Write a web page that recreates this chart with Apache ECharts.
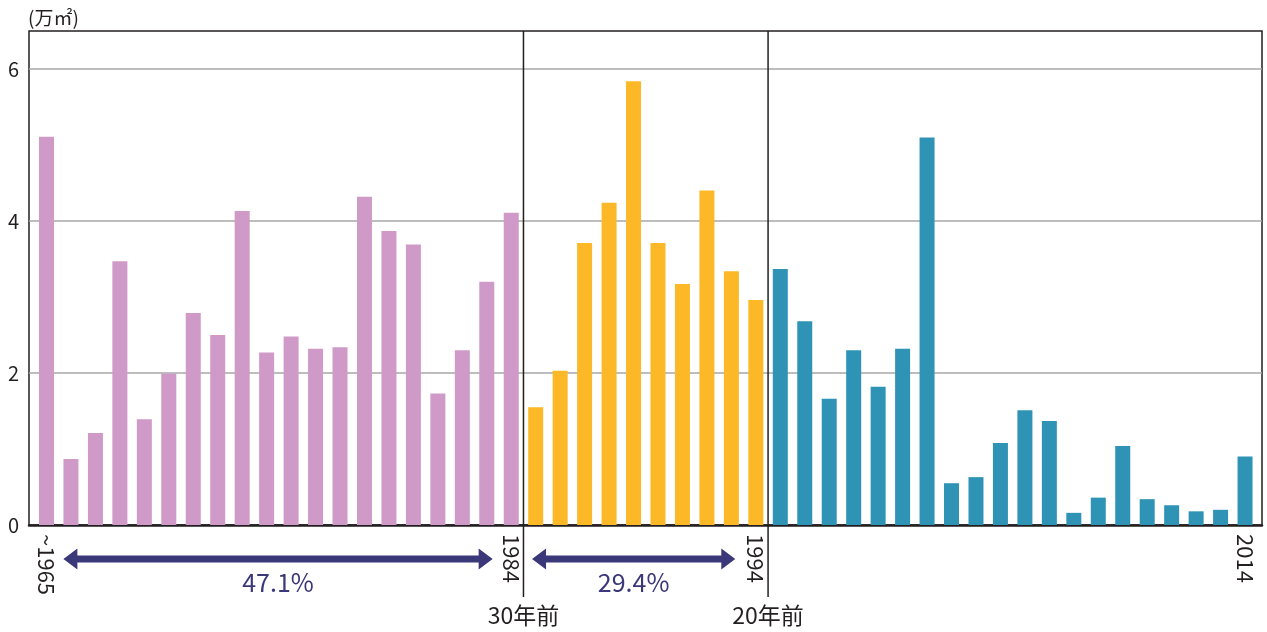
<!DOCTYPE html>
<html><head><meta charset="utf-8">
<script src="https://cdn.jsdelivr.net/npm/echarts@6/dist/echarts.min.js"></script>
<style>html,body{margin:0;padding:0;background:#fff}#c{width:1267px;height:632px}</style>
</head><body><div id="c"></div>
<script>
const years = ['1965','1966','1967','1968','1969','1970','1971','1972','1973','1974',
  '1975','1976','1977','1978','1979','1980','1981','1982','1983','1984',
  '1985','1986','1987','1988','1989','1990','1991','1992','1993','1994',
  '1995','1996','1997','1998','1999','2000','2001','2002','2003','2004',
  '2005','2006','2007','2008','2009','2010','2011','2012','2013','2014'];
const tickYears = ['1965','1984','1994','2014'];
const tickTexts = ['~1965','1984','1994','2014'];
const purpleValues = [5.11,0.87,1.21,3.47,1.39,1.99,2.79,2.50,4.13,2.27,2.48,2.32,2.34,4.32,3.87,3.69,1.73,2.30,3.20,4.11];
const orangeValues = [1.55,2.03,3.71,4.24,5.84,3.71,3.17,4.40,3.34,2.96];
const blueValues = [3.37,2.68,1.66,2.30,1.82,2.32,5.10,0.55,0.63,1.08,1.51,1.37,0.16,0.36,1.04,0.34,0.26,0.18,0.20,0.90];
const yTicks = [0,2,4,6];
const unitLabel = '(万㎡)';
const shareTexts = ['47.1%','29.4%'];
const agoTexts = ['30年前','20年前'];

const FONT = '"Noto Sans CJK JP","Noto Sans",sans-serif';
const DARK = '#231f20';
const ARROW = '#3b387a';

function place(values, start) {
  return years.map((y, i) => (i >= start && i < start + values.length) ? values[i - start] : null);
}

const chart = echarts.init(document.getElementById('c'), null, {renderer: 'canvas'});
chart.setOption({
  animation: false,
  backgroundColor: '#fff',
  textStyle: {fontFamily: FONT},
  title: {text: unitLabel, left: 23, top: 3, textStyle: {fontSize: 19, fontWeight: 'normal', color: DARK, fontFamily: FONT}},
  grid: [
    {left: 29, right: 5, top: 31, bottom: 107, show: true, borderColor: DARK, borderWidth: 1.5, backgroundColor: 'transparent'},
    {left: 34.27, right: 9.73, top: 31, bottom: 107}
  ],
  xAxis: [
    {type: 'value', gridIndex: 0, min: 0, max: 1, axisLine: {show: true, onZero: false, lineStyle: {color: DARK, width: 2.5}}, axisTick: {show: false}, axisLabel: {show: false}, splitLine: {show: false}},
    {type: 'category', gridIndex: 1, data: years, boundaryGap: true, axisLine: {show: false}, axisTick: {show: false},
     axisLabel: {interval: 0, rotate: -90, fontSize: 22, margin: 9, color: DARK, fontFamily: FONT,
       formatter: (v) => { const k = tickYears.indexOf(v); return k >= 0 ? tickTexts[k] : ''; }}}
  ],
  yAxis: [
    {type: 'value', gridIndex: 0, min: 0, max: 6.5, interval: 2, axisLine: {show: false}, axisTick: {show: false},
     axisLabel: {fontSize: 20, color: DARK, margin: 10, fontFamily: FONT, showMaxLabel: false,
       formatter: (v) => yTicks.indexOf(v) >= 0 ? String(v) : ''},
     splitLine: {show: true, showMinLine: false, showMaxLine: false, lineStyle: {color: '#a7a7a9', width: 1.5}}},
    {type: 'value', gridIndex: 1, min: 0, max: 6.5, show: false, splitLine: {show: false}}
  ],
  series: [
    {type: 'bar', xAxisIndex: 1, yAxisIndex: 1, data: place(purpleValues, 0), barWidth: 15, barGap: '-100%', itemStyle: {color: '#cf9ac7'}},
    {type: 'bar', xAxisIndex: 1, yAxisIndex: 1, data: place(orangeValues, 20), barWidth: 15, barGap: '-100%', itemStyle: {color: '#fcb827'}},
    {type: 'bar', xAxisIndex: 1, yAxisIndex: 1, data: place(blueValues, 30), barWidth: 15, barGap: '-100%', itemStyle: {color: '#2f93b6'}}
  ]
});

// annotation layer computed from the axes
const px = (i) => chart.convertToPixel({xAxisIndex: 1}, years[i]);
const py = (v) => chart.convertToPixel({yAxisIndex: 1}, v);
const band = px(1) - px(0);
const sep1 = px(19) + band / 2;
const sep2 = px(29) + band / 2;
const yTop = py(6.5);
const yBase = py(0);

function arrowPoly(x0, x1, y) {
  const hw = 14, hh = 10.5, sh = 3.6;
  return [[x0, y], [x0 + hw, y - hh], [x0 + hw, y - sh], [x1 - hw, y - sh], [x1 - hw, y - hh], [x1, y],
          [x1 - hw, y + hh], [x1 - hw, y + sh], [x0 + hw, y + sh], [x0 + hw, y + hh]];
}
const arrowY = yBase + 34;
const a1 = [px(0) + 0.69 * band, sep1 - 1.26 * band];
const a2 = [sep1 + 0.35 * band, sep2 - 1.34 * band];

const g = [];
[sep1, sep2].forEach((x, k) => {
  g.push({type: 'line', z: 100, shape: {x1: x, y1: yTop, x2: x, y2: yBase + 72}, style: {stroke: DARK, lineWidth: 1.5}});
  g.push({type: 'text', z: 100, x: x, y: yBase + 90, style: {text: agoTexts[k], fill: DARK, font: '23px ' + FONT, textAlign: 'center', textVerticalAlign: 'middle'}});
});
[a1, a2].forEach((a, k) => {
  g.push({type: 'polygon', z: 100, shape: {points: arrowPoly(a[0], a[1], arrowY)}, style: {fill: ARROW}});
  g.push({type: 'text', z: 100, x: (a[0] + a[1]) / 2, y: yBase + 57, style: {text: shareTexts[k], fill: ARROW, font: '25px ' + FONT, textAlign: 'center', textVerticalAlign: 'middle'}});
});
chart.setOption({graphic: g});
</script>
</body></html>
